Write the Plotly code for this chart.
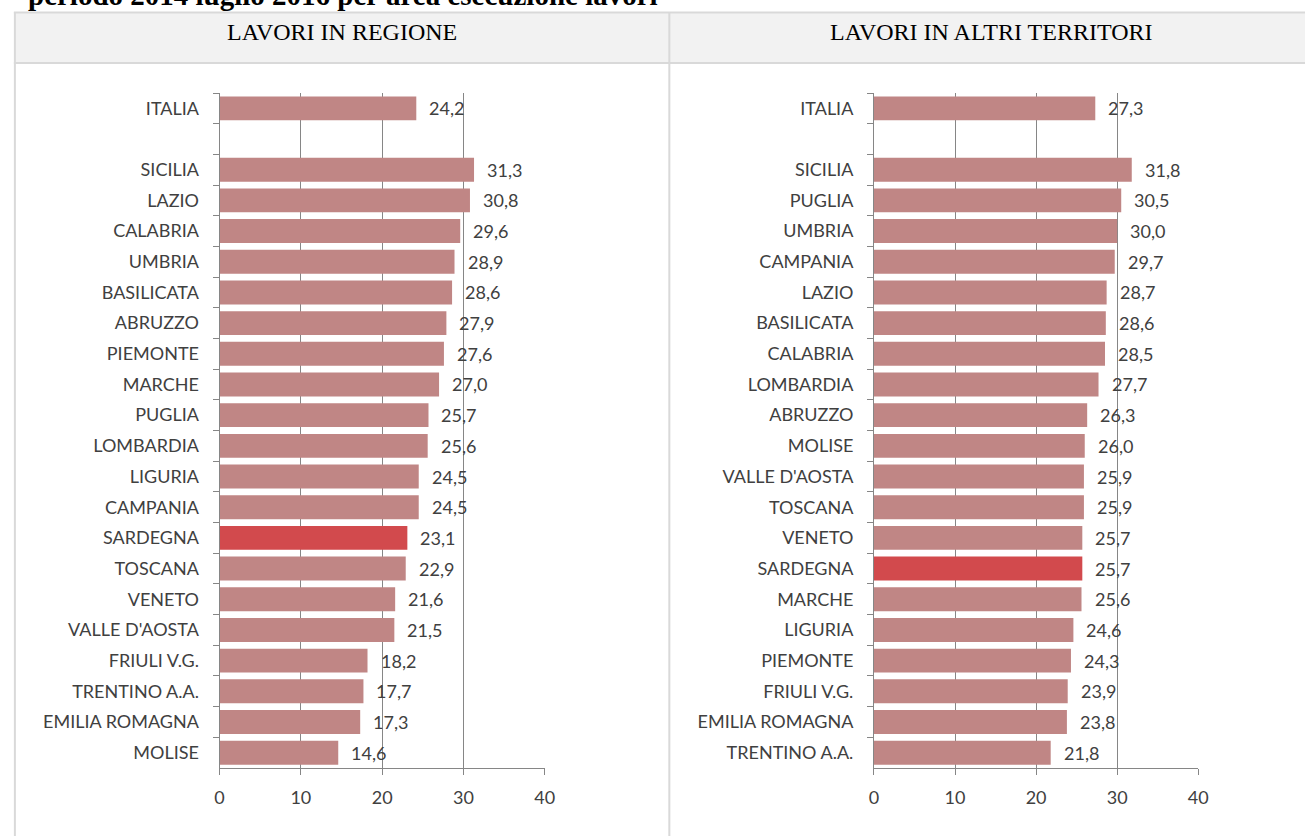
import plotly.graph_objects as go

W, H = 1315, 836

title_text = "periodo 2014 luglio 2016 per area esecuzione lavori"
header_left = "LAVORI IN REGIONE"
header_right = "LAVORI IN ALTRI TERRITORI"

left_regions = ["ITALIA", " ", "SICILIA", "LAZIO", "CALABRIA", "UMBRIA", "BASILICATA", "ABRUZZO",
                "PIEMONTE", "MARCHE", "PUGLIA", "LOMBARDIA", "LIGURIA", "CAMPANIA", "SARDEGNA",
                "TOSCANA", "VENETO", "VALLE D'AOSTA", "FRIULI V.G.", "TRENTINO A.A.",
                "EMILIA ROMAGNA", "MOLISE"]
left_values = [24.2, None, 31.3, 30.8, 29.6, 28.9, 28.6, 27.9, 27.6, 27.0, 25.7, 25.6, 24.5, 24.5,
               23.1, 22.9, 21.6, 21.5, 18.2, 17.7, 17.3, 14.6]

right_regions = ["ITALIA", " ", "SICILIA", "PUGLIA", "UMBRIA", "CAMPANIA", "LAZIO", "BASILICATA",
                 "CALABRIA", "LOMBARDIA", "ABRUZZO", "MOLISE", "VALLE D'AOSTA", "TOSCANA", "VENETO",
                 "SARDEGNA", "MARCHE", "LIGURIA", "PIEMONTE", "FRIULI V.G.", "EMILIA ROMAGNA",
                 "TRENTINO A.A."]
right_values = [27.3, None, 31.8, 30.5, 30.0, 29.7, 28.7, 28.6, 28.5, 27.7, 26.3, 26.0, 25.9, 25.9,
                25.7, 25.7, 25.6, 24.6, 24.3, 23.9, 23.8, 21.8]

x_ticks = [0, 10, 20, 30, 40]
highlight = "SARDEGNA"

BAR = "#C08685"
BAR_HI = "#D24A4D"
TXT = "#404040"
GRID = "#868686"
FONT = "Lato"

def px_x(p):
    return p / W

def px_y(p):
    return 1 - p / H

fig = go.Figure()

panels = [
    (left_regions, left_values, "x", "y"),
    (right_regions, right_values, "x2", "y2"),
]

plot_top, plot_bottom = 93, 768

for regions, values, xa, ya in panels:
    colors = [BAR_HI if r == highlight else BAR for r in regions]
    fig.add_trace(go.Bar(
        x=values, y=regions, orientation="h", marker=dict(color=colors, line=dict(width=0)),
        width=0.78, xaxis=xa, yaxis=ya, showlegend=False, hoverinfo="skip",
    ))
    for r, v in zip(regions, values):
        if v is None:
            continue
        fig.add_annotation(
            x=v, y=r, xref=xa, yref=ya, text=f"{v:.1f}".replace(".", ","),
            showarrow=False, xanchor="left", yanchor="middle", xshift=11,
            font=dict(family=FONT, size=18, color=TXT),
        )

axis_common_x = dict(
    range=[0, 40], tickvals=x_ticks, showgrid=True, gridcolor=GRID, gridwidth=1,
    zeroline=False, showline=True, linecolor=GRID, linewidth=1, ticks="outside",
    ticklen=6, tickcolor=GRID, tickfont=dict(family=FONT, size=18, color=TXT),
    layer="above traces", fixedrange=True, ticklabelstandoff=7,
)
axis_common_y = dict(
    type="category", autorange="reversed", showgrid=False, zeroline=False,
    showline=True, linecolor=GRID, linewidth=1, ticks="outside", ticklen=6,
    tickcolor=GRID, tickson="boundaries", tickfont=dict(family=FONT, size=18, color=TXT),
    layer="above traces", fixedrange=True, ticklabelstandoff=16,
)

fig.update_layout(
    width=W, height=H, margin=dict(l=0, r=0, t=0, b=0),
    paper_bgcolor="white", plot_bgcolor="rgba(0,0,0,0)", bargap=0.22,
    xaxis=dict(domain=[px_x(217), px_x(546)], anchor="y", **axis_common_x),
    yaxis=dict(domain=[px_y(plot_bottom), px_y(plot_top)], anchor="x",
               categoryarray=left_regions, categoryorder="array", **axis_common_y),
    xaxis2=dict(domain=[px_x(879), px_x(1207)], anchor="y2", **axis_common_x),
    yaxis2=dict(domain=[px_y(plot_bottom), px_y(plot_top)], anchor="x2",
                categoryarray=right_regions, categoryorder="array", **axis_common_y),
)

BORDER = "#d9d9d9"
shapes = [
    dict(type="rect", xref="paper", yref="paper", x0=px_x(10), x1=1.0, y0=px_y(63), y1=px_y(12),
         fillcolor="#f2f2f2", line=dict(width=0), layer="below"),
    dict(type="line", xref="paper", yref="paper", x0=px_x(9), x1=1.0, y0=px_y(12.5), y1=px_y(12.5),
         line=dict(color=BORDER, width=2)),
    dict(type="line", xref="paper", yref="paper", x0=px_x(9), x1=1.0, y0=px_y(63), y1=px_y(63),
         line=dict(color=BORDER, width=2)),
    dict(type="line", xref="paper", yref="paper", x0=px_x(10), x1=px_x(10), y0=0, y1=px_y(12),
         line=dict(color=BORDER, width=2)),
    dict(type="line", xref="paper", yref="paper", x0=px_x(672), x1=px_x(672), y0=0, y1=px_y(12),
         line=dict(color=BORDER, width=2)),
]
fig.update_layout(shapes=shapes)

fig.add_annotation(text=header_left, x=px_x(341), y=px_y(32), xref="paper", yref="paper",
                   showarrow=False, xanchor="center", yanchor="middle",
                   font=dict(family="Liberation Serif", size=24, color="#000000"))
fig.add_annotation(text=header_right, x=px_x(997), y=px_y(32), xref="paper", yref="paper",
                   showarrow=False, xanchor="center", yanchor="middle",
                   font=dict(family="Liberation Serif", size=24, color="#000000"))
fig.add_annotation(text=f"<b>{title_text}</b>", x=px_x(21), y=px_y(-5), xref="paper", yref="paper",
                   showarrow=False, xanchor="left", yanchor="middle",
                   font=dict(family="Liberation Serif", size=29, color="black"))

fig.write_html("out.html", config={"responsive": False})
